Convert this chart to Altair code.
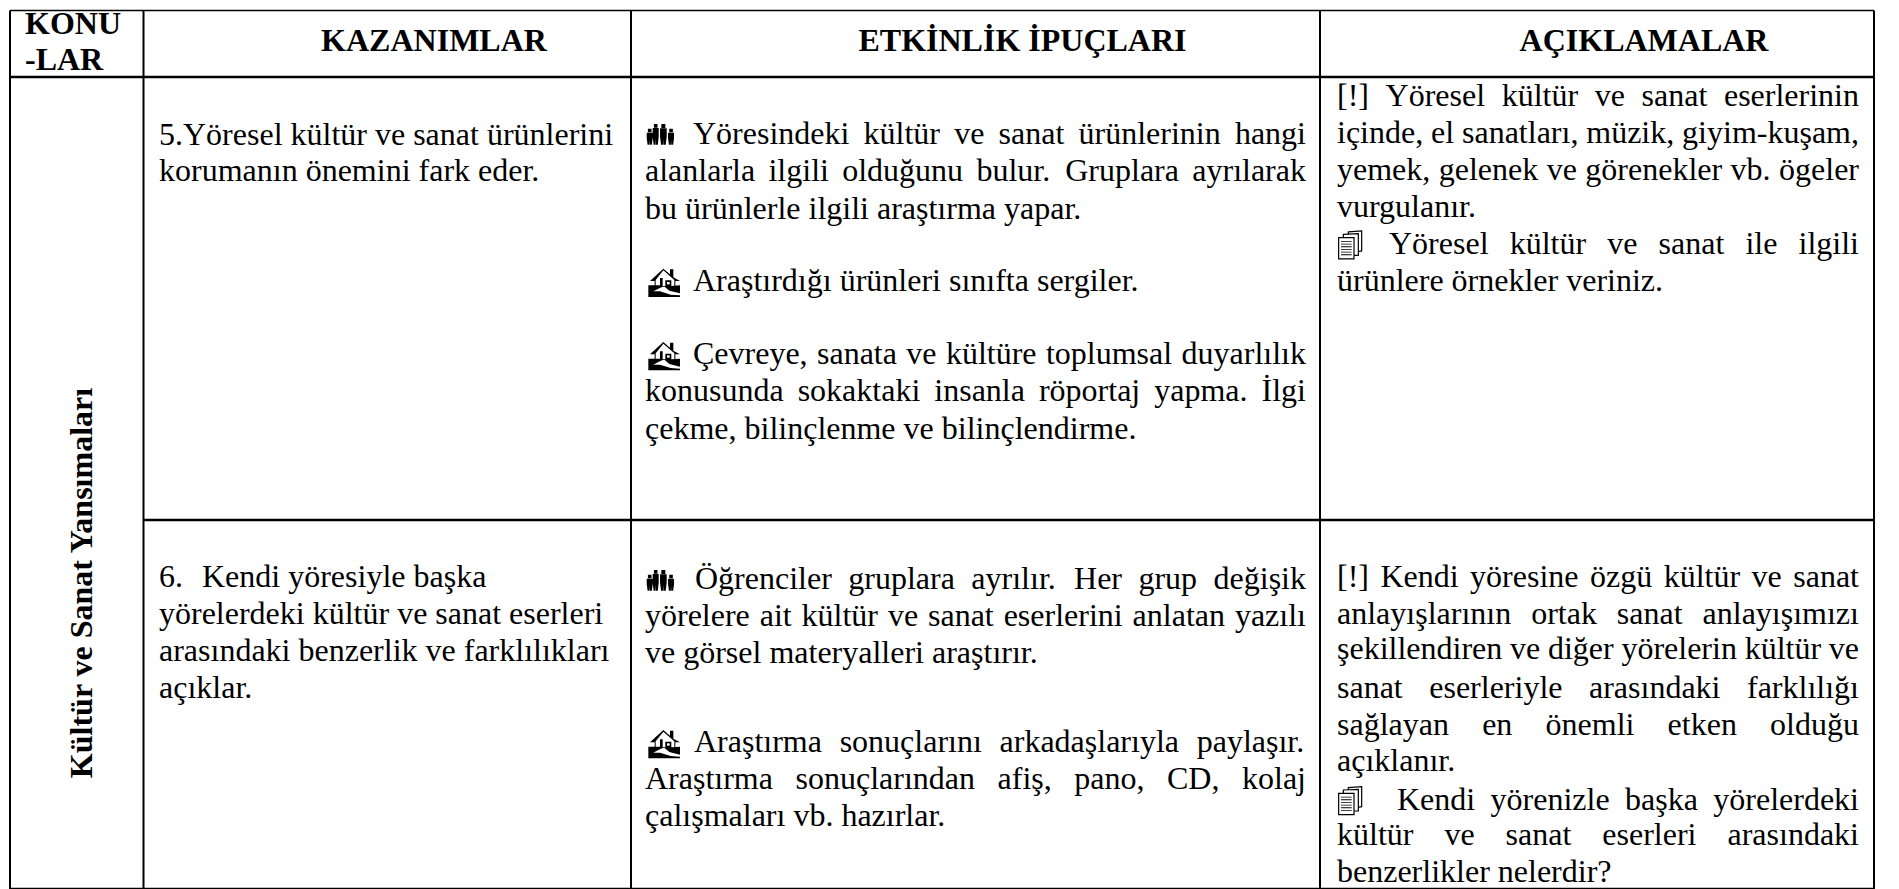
import altair as alt
import pandas as pd

# ---------- table content ----------
HEADERS = ["KAZANIMLAR", "ETKİNLİK İPUÇLARI", "AÇIKLAMALAR"]
KONU = ["KONU", "-LAR"]
SIDE = "Kültür ve Sanat Yansımaları"
NUM6 = "6."

# (text, justified?)
C2R1 = [("5.Yöresel kültür ve sanat ürünlerini", 0), ("korumanın önemini fark eder.", 0)]
C2R2 = [("Kendi yöresiyle başka", 0), ("yörelerdeki kültür ve sanat eserleri", 0),
        ("arasındaki benzerlik ve farklılıkları", 0), ("açıklar.", 0)]
C3R1 = [("Yöresindeki kültür ve sanat ürünlerinin hangi", 1),
        ("alanlarla ilgili olduğunu bulur. Gruplara ayrılarak", 1),
        ("bu ürünlerle ilgili araştırma yapar.", 0),
        ("Araştırdığı ürünleri sınıfta sergiler.", 0),
        ("Çevreye, sanata ve kültüre toplumsal duyarlılık", 1),
        ("konusunda sokaktaki insanla röportaj yapma. İlgi", 1),
        ("çekme, bilinçlenme ve bilinçlendirme.", 0)]
C3R2 = [("Öğrenciler gruplara ayrılır. Her grup değişik", 1),
        ("yörelere ait kültür ve sanat eserlerini anlatan yazılı", 1),
        ("ve görsel materyalleri araştırır.", 0),
        ("Araştırma sonuçlarını arkadaşlarıyla paylaşır.", 1),
        ("Araştırma sonuçlarından afiş, pano, CD, kolaj", 1),
        ("çalışmaları vb. hazırlar.", 0)]
C4R1 = [("[!] Yöresel kültür ve sanat eserlerinin", 1),
        ("içinde, el sanatları, müzik, giyim-kuşam,", 1),
        ("yemek, gelenek ve görenekler vb. ögeler", 1),
        ("vurgulanır.", 0),
        ("Yöresel kültür ve sanat ile ilgili", 1),
        ("ürünlere örnekler veriniz.", 0)]
C4R2 = [("[!] Kendi yöresine özgü kültür ve sanat", 1),
        ("anlayışlarının ortak sanat anlayışımızı", 1),
        ("şekillendiren ve diğer yörelerin kültür ve", 1),
        ("sanat eserleriyle arasındaki farklılığı", 1),
        ("sağlayan en önemli etken olduğu", 1),
        ("açıklanır.", 0),
        ("Kendi yörenizle başka yörelerdeki", 1),
        ("kültür ve sanat eserleri arasındaki", 1),
        ("benzerlikler nelerdir?", 0)]

# ---------- layout (page pixels) ----------
W, H = 1883, 881
X_LINES = [10, 143.5, 631, 1320, 1874]
Y_TOP, Y_HEAD, Y_ROW, Y_BOT = 8.5, 75, 518, 887
FS = 32
FONT = "Liberation Serif"

BASE = {
    "c2r1": [142.7, 179], "c2r2": [585, 621.7, 659, 696],
    "c3r1": [141.7, 179, 216.7, 288.7, 362, 399, 437],
    "c3r2": [586.7, 624, 660.7, 750, 787, 824],
    "c4r1": [104, 141, 178, 215, 252.3, 289],
    "c4r2": [585, 621.7, 657, 696, 732.7, 769, 808, 843, 880],
}
C2 = (159, 618); C3 = (645, 1306); C4 = (1337, 1859)
INDENT = {("c2r2", 0): 202,
          ("c3r1", 0): 693, ("c3r1", 3): 693, ("c3r1", 4): 693,
          ("c3r2", 0): 695, ("c3r2", 3): 694,
          ("c4r1", 4): 1389, ("c4r2", 6): 1397}

AFM = dict(a=444, b=500, c=444, d=500, e=444, f=333, g=500, h=500, i=278, j=278, k=500, l=278, m=778,
           n=500, o=500, p=500, q=500, r=333, s=389, t=278, u=500, v=500, w=722, x=500, y=500, z=444,
           A=722, B=667, C=667, D=722, E=611, F=556, G=722, H=722, I=333, J=389, K=722, L=611, M=889,
           N=722, O=722, P=556, Q=722, R=667, S=556, T=611, U=722, V=722, W=944, X=722, Y=722, Z=611)
AFM.update({".": 250, ",": 250, "-": 333, "[": 333, "]": 333, "!": 333, "?": 444, "5": 500, "6": 500,
            "ş": 389, "ı": 278, "ğ": 500, "ü": 500, "ö": 500, "ç": 444, "İ": 333, "Ö": 722, "Ç": 667, "Ş": 556})


def wid(word):
    return sum(AFM.get(ch, 500) for ch in word) * FS / 1000


rows = [dict(x=C2[0], y=BASE["c2r2"][0], t=NUM6)]
for key, lines, col in [("c2r1", C2R1, C2), ("c2r2", C2R2, C2), ("c3r1", C3R1, C3), ("c3r2", C3R2, C3),
                        ("c4r1", C4R1, C4), ("c4r2", C4R2, C4)]:
    for i, (txt, just) in enumerate(lines):
        left = INDENT.get((key, i), col[0])
        y = BASE[key][i]
        if just:
            words = txt.split()
            gap = (col[1] - left - sum(wid(w) for w in words)) / (len(words) - 1)
            x = left
            for w in words:
                rows.append(dict(x=x, y=y, t=w))
                x += wid(w) + gap
        else:
            rows.append(dict(x=left, y=y, t=txt))
body = pd.DataFrame(rows)

xs = alt.Scale(domain=[8, 8 + W], range=[0, W], nice=False, zero=False)
ys = alt.Scale(domain=[8, 8 + H], range=[0, H], nice=False, zero=False)
X = alt.X("x:Q", scale=xs, axis=None)
Y = alt.Y("y:Q", scale=ys, axis=None)

body_l = alt.Chart(body).mark_text(font=FONT, fontSize=FS, align="left", baseline="alphabetic",
                                   color="#000").encode(x=X, y=Y, text="t:N")

head = pd.DataFrame([
    dict(x=25, y=32, t=KONU[0]), dict(x=25, y=68, t=KONU[1])])
head_l = alt.Chart(head).mark_text(font=FONT, fontSize=FS, fontWeight="bold", align="left",
                                   baseline="alphabetic", color="#000").encode(x=X, y=Y, text="t:N")
head2 = pd.DataFrame([dict(x=434, y=49.3, t=HEADERS[0]), dict(x=1022.5, y=49.3, t=HEADERS[1]),
                      dict(x=1644, y=49.3, t=HEADERS[2])])
head_c = alt.Chart(head2).mark_text(font=FONT, fontSize=FS, fontWeight="bold", align="center",
                                    baseline="alphabetic", color="#000").encode(x=X, y=Y, text="t:N")
side = alt.Chart(pd.DataFrame([dict(x=92, y=581, t=SIDE)])).mark_text(
    font=FONT, fontSize=FS, fontWeight="bold", angle=270, align="center", baseline="alphabetic",
    color="#000").encode(x=X, y=Y, text="t:N")

# ---------- rules ----------
vr = pd.DataFrame([dict(x=v, y=Y_TOP, y2=Y_BOT) for v in X_LINES])
v_rules = alt.Chart(vr).mark_rule(color="#000", strokeWidth=2).encode(x=X, y=Y, y2="y2:Q")
hr = pd.DataFrame([dict(x=X_LINES[0], x2=X_LINES[-1], y=Y_HEAD),
                   dict(x=X_LINES[1], x2=X_LINES[-1], y=Y_ROW), dict(x=X_LINES[0], x2=X_LINES[-1], y=Y_BOT)])
h_rules = alt.Chart(hr).mark_rule(color="#000", strokeWidth=2.5).encode(x=X, x2="x2:Q", y=Y)
tr = pd.DataFrame([dict(x=X_LINES[0], x2=X_LINES[-1], y=Y_TOP)])
t_rule = alt.Chart(tr).mark_rule(color="#000", strokeWidth=1.5).encode(x=X, x2="x2:Q", y=Y)


# ---------- icons ----------
def poly(pts, cx, cy, half=45):
    return "M" + " L".join(f"{(a - cx) / half:.3f},{(b - cy) / half:.3f}" for a, b in pts) + " Z"


def figure(c, top, bot, w):
    hd = w * 0.6
    return " ".join([
        poly([(c - hd, top), (c + hd, top), (c + hd, top + 2 * hd), (c - hd, top + 2 * hd)], 62, 38),
        poly([(c - w, top + 2 * hd + 1), (c + w, top + 2 * hd + 1), (c + w, top + (bot - top) * .6),
              (c + w * .7, bot), (c + .6, bot), (c, top + (bot - top) * .7), (c - .6, bot),
              (c - w * .7, bot), (c - w, top + (bot - top) * .6)], 62, 38)])


PEOPLE = " ".join([figure(29, 20, 68, 9), figure(47, 6, 68, 9), figure(70, 6, 68, 10), figure(93, 20, 68, 9)])
ROOF = poly([(30, 57), (70, 20), (90, 37), (90, 22), (100, 22), (100, 46), (120, 57), (106, 57), (106, 72),
             (103, 72), (103, 54), (70, 25), (47, 54), (47, 72), (44, 72), (44, 57)], 75, 62)
GROUND = poly([(25, 70), (60, 70), (60, 48), (68, 48), (68, 72), (76, 72), (76, 55), (94, 55), (94, 72),
               (120, 70), (120, 105), (25, 105)], 75, 62)
ROAD = poly([(68, 74), (74, 74), (88, 86), (120, 94), (120, 100), (92, 98), (60, 88), (40, 88), (55, 80)], 75, 62)
WIN = poly([(81, 60), (89, 60), (89, 67), (81, 67)], 75, 62)
PAGE3 = poly([(55, 15), (95, 12), (95, 72), (80, 75), (55, 75)], 60, 52)
PAGE2 = poly([(40, 22), (85, 20), (85, 85), (40, 85)], 60, 52)
PAGE1 = poly([(26, 32), (72, 32), (72, 96), (26, 96)], 60, 52)
LINES = " ".join(poly([(33, v), (65, v), (65, v + 2.5), (33, v + 2.5)], 60, 52) for v in range(42, 90, 8))


def icon(xc, ycs, shape, px, filled_col="#000", stroke=None, sw=0):
    df = pd.DataFrame({"x": [xc] * len(ycs), "y": ycs})
    kw = dict(shape=shape, size=px * px, fill=filled_col, filled=True, opacity=1)
    if stroke:
        kw.update(stroke=stroke, strokeWidth=sw)
    else:
        kw.update(strokeWidth=0)
    return alt.Chart(df).mark_point(**kw).encode(x=X, y=Y)


b3 = BASE["c3r1"]; b3b = BASE["c3r2"]
people = [b3[0] - 9, b3b[0] - 8]
houses = [b3[3] - 8, b3[4] - 8, b3b[3] - 8]
docs = [BASE["c4r1"][4] - 10, BASE["c4r2"][6] - 10]
icons = [
    icon(660.7, people, PEOPLE, 30),
    icon(665, houses, ROOF, 30),
    icon(665, houses, GROUND, 30),
    icon(665, houses, ROAD, 30, "#fff"),
    icon(665, houses, WIN, 30, "#fff"),
    icon(1350, docs, PAGE3, 30, "#fff", "#000", 1.2),
    icon(1350, docs, PAGE2, 30, "#fff", "#000", 1.2),
    icon(1350, docs, PAGE1, 30, "#fff", "#000", 1.2),
    icon(1350, docs, LINES, 30),
]

chart = alt.layer(v_rules, h_rules, t_rule, body_l, head_l, head_c, side, *icons).properties(
    width=W, height=H, padding=0, background="#ffffff"
).configure_view(stroke=None)

chart.save("out.html", embed_options={"renderer": "svg", "actions": False})
